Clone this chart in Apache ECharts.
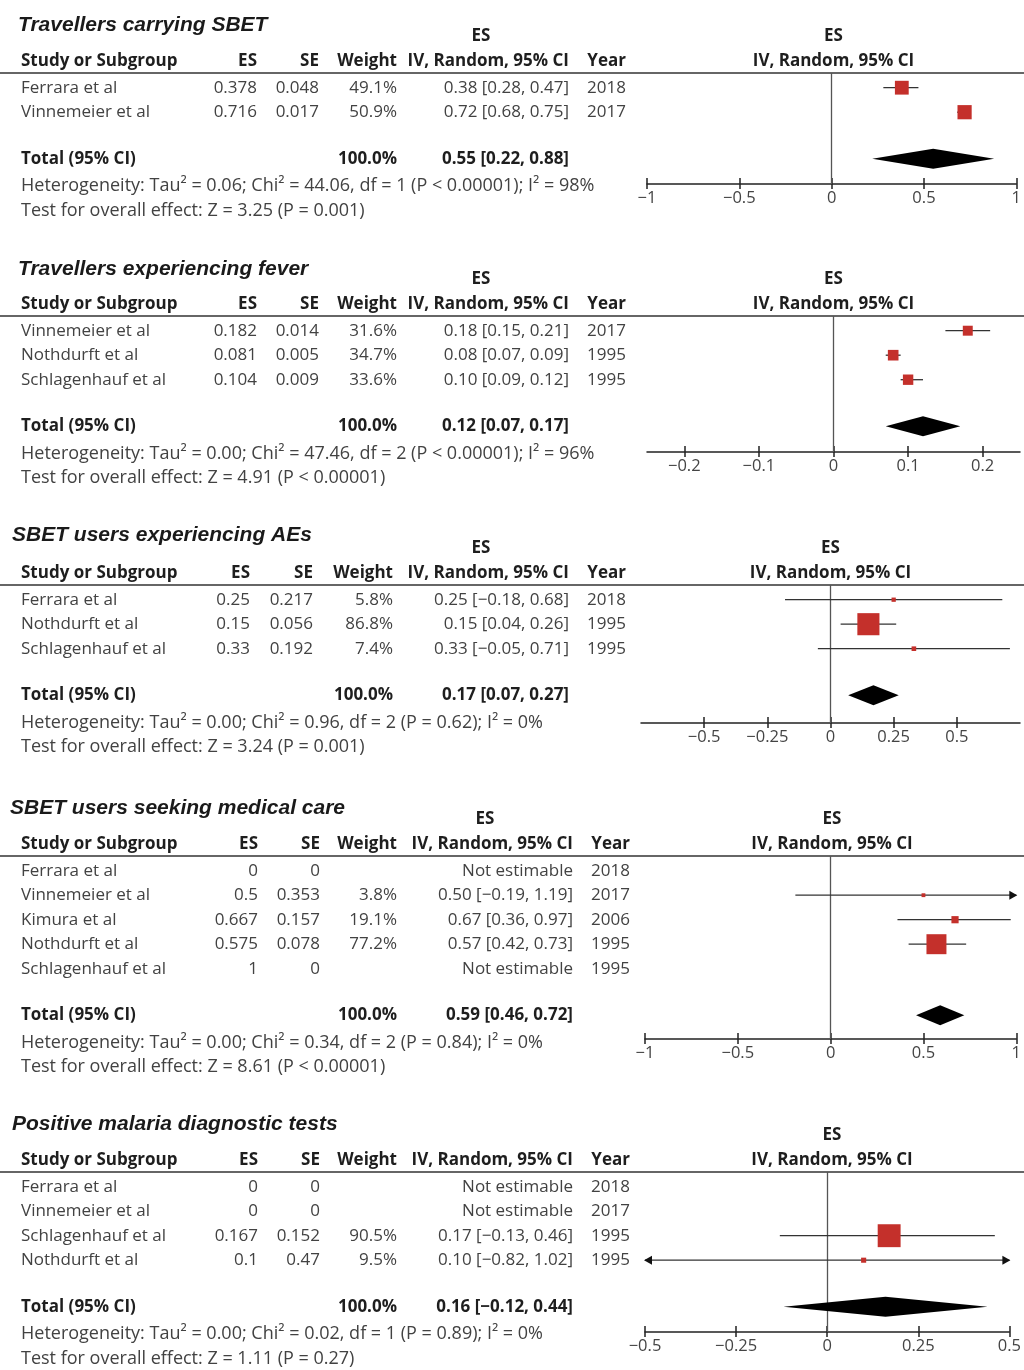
<!DOCTYPE html>
<html><head><meta charset="utf-8">
<script src="https://cdn.jsdelivr.net/npm/echarts@6/dist/echarts.min.js"></script>
<style>html,body{margin:0;padding:0;background:#fff}#c{width:1024px;height:1370px}</style>
</head><body><div id="c"></div>
<script>
// ---------- Panel 1 ----------
const p1Title = 'Travellers carrying SBET';
const p1Studies = ['Ferrara et al', 'Vinnemeier et al'];
const p1ES = [0.378, 0.716];
const p1SE = [0.048, 0.017];
const p1Weight = [49.1, 50.9];
const p1Est = [0.38, 0.72];
const p1Low = [0.28, 0.68];
const p1High = [0.47, 0.75];
const p1Year = [2018, 2017];
const p1Total = [0.55, 0.22, 0.88];
const p1Het = 'Heterogeneity: Tau² = 0.06; Chi² = 44.06, df = 1 (P < 0.00001); I² = 98%';
const p1Test = 'Test for overall effect: Z = 3.25 (P = 0.001)';
const p1Range = [-1, 1];
const p1Ticks = [-1, -0.5, 0, 0.5, 1];

// ---------- Panel 2 ----------
const p2Title = 'Travellers experiencing fever';
const p2Studies = ['Vinnemeier et al', 'Nothdurft et al', 'Schlagenhauf et al'];
const p2ES = [0.182, 0.081, 0.104];
const p2SE = [0.014, 0.005, 0.009];
const p2Weight = [31.6, 34.7, 33.6];
const p2Est = [0.18, 0.08, 0.10];
const p2Low = [0.15, 0.07, 0.09];
const p2High = [0.21, 0.09, 0.12];
const p2Year = [2017, 1995, 1995];
const p2Total = [0.12, 0.07, 0.17];
const p2Het = 'Heterogeneity: Tau² = 0.00; Chi² = 47.46, df = 2 (P < 0.00001); I² = 96%';
const p2Test = 'Test for overall effect: Z = 4.91 (P < 0.00001)';
const p2Range = [-0.25, 0.25];
const p2Ticks = [-0.2, -0.1, 0, 0.1, 0.2];

// ---------- Panel 3 ----------
const p3Title = 'SBET users experiencing AEs';
const p3Studies = ['Ferrara et al', 'Nothdurft et al', 'Schlagenhauf et al'];
const p3ES = [0.25, 0.15, 0.33];
const p3SE = [0.217, 0.056, 0.192];
const p3Weight = [5.8, 86.8, 7.4];
const p3Est = [0.25, 0.15, 0.33];
const p3Low = [-0.18, 0.04, -0.05];
const p3High = [0.68, 0.26, 0.71];
const p3Year = [2018, 1995, 1995];
const p3Total = [0.17, 0.07, 0.27];
const p3Het = 'Heterogeneity: Tau² = 0.00; Chi² = 0.96, df = 2 (P = 0.62); I² = 0%';
const p3Test = 'Test for overall effect: Z = 3.24 (P = 0.001)';
const p3Range = [-0.75, 0.75];
const p3Ticks = [-0.5, -0.25, 0, 0.25, 0.5];

// ---------- Panel 4 ----------
const p4Title = 'SBET users seeking medical care';
const p4Studies = ['Ferrara et al', 'Vinnemeier et al', 'Kimura et al', 'Nothdurft et al', 'Schlagenhauf et al'];
const p4ES = [0, 0.5, 0.667, 0.575, 1];
const p4SE = [0, 0.353, 0.157, 0.078, 0];
const p4Weight = [null, 3.8, 19.1, 77.2, null];
const p4Est = [null, 0.50, 0.67, 0.57, null];
const p4Low = [null, -0.19, 0.36, 0.42, null];
const p4High = [null, 1.19, 0.97, 0.73, null];
const p4Year = [2018, 2017, 2006, 1995, 1995];
const p4Total = [0.59, 0.46, 0.72];
const p4Het = 'Heterogeneity: Tau² = 0.00; Chi² = 0.34, df = 2 (P = 0.84); I² = 0%';
const p4Test = 'Test for overall effect: Z = 8.61 (P < 0.00001)';
const p4Range = [-1, 1];
const p4Ticks = [-1, -0.5, 0, 0.5, 1];

// ---------- Panel 5 ----------
const p5Title = 'Positive malaria diagnostic tests';
const p5Studies = ['Ferrara et al', 'Vinnemeier et al', 'Schlagenhauf et al', 'Nothdurft et al'];
const p5ES = [0, 0, 0.167, 0.1];
const p5SE = [0, 0, 0.152, 0.47];
const p5Weight = [null, null, 90.5, 9.5];
const p5Est = [null, null, 0.17, 0.10];
const p5Low = [null, null, -0.13, -0.82];
const p5High = [null, null, 0.46, 1.02];
const p5Year = [2018, 2017, 1995, 1995];
const p5Total = [0.16, -0.12, 0.44];
const p5Het = 'Heterogeneity: Tau² = 0.00; Chi² = 0.02, df = 1 (P = 0.89); I² = 0%';
const p5Test = 'Test for overall effect: Z = 1.11 (P = 0.27)';
const p5Range = [-0.5, 0.5];
const p5Ticks = [-0.5, -0.25, 0, 0.25, 0.5];

// ---------- layout (positions / styles only) ----------
const PITCH = 24.5;
const layouts = [
  {ruleY: 73,   axisY: 184,  left: 647, right: 1020, title: 18, tY: -48, es: 257, se: 319, wt: 397, ci: 569, yr: 626, esHead: true},
  {ruleY: 316,  axisY: 452,  left: 647, right: 1020, title: 18, tY: -47, es: 257, se: 319, wt: 397, ci: 569, yr: 626, esHead: true},
  {ruleY: 585,  axisY: 723,  left: 641, right: 1020, title: 12, tY: -50, es: 250, se: 313, wt: 393, ci: 569, yr: 626, esHead: true},
  {ruleY: 856,  axisY: 1039, left: 645, right: 1019, title: 10, tY: -48, es: 258, se: 320, wt: 397, ci: 573, yr: 630, esHead: true},
  {ruleY: 1172, axisY: 1332, left: 645, right: 1019, title: 12, tY: -48, es: 258, se: 320, wt: 397, ci: 573, yr: 630, esHead: false}
];

const panels = [
  {title: p1Title, studies: p1Studies, es: p1ES, se: p1SE, w: p1Weight, est: p1Est, lo: p1Low, hi: p1High, yr: p1Year, tot: p1Total, het: p1Het, test: p1Test, range: p1Range, ticks: p1Ticks},
  {title: p2Title, studies: p2Studies, es: p2ES, se: p2SE, w: p2Weight, est: p2Est, lo: p2Low, hi: p2High, yr: p2Year, tot: p2Total, het: p2Het, test: p2Test, range: p2Range, ticks: p2Ticks},
  {title: p3Title, studies: p3Studies, es: p3ES, se: p3SE, w: p3Weight, est: p3Est, lo: p3Low, hi: p3High, yr: p3Year, tot: p3Total, het: p3Het, test: p3Test, range: p3Range, ticks: p3Ticks},
  {title: p4Title, studies: p4Studies, es: p4ES, se: p4SE, w: p4Weight, est: p4Est, lo: p4Low, hi: p4High, yr: p4Year, tot: p4Total, het: p4Het, test: p4Test, range: p4Range, ticks: p4Ticks},
  {title: p5Title, studies: p5Studies, es: p5ES, se: p5SE, w: p5Weight, est: p5Est, lo: p5Low, hi: p5High, yr: p5Year, tot: p5Total, het: p5Het, test: p5Test, range: p5Range, ticks: p5Ticks}
];

const FONT = "'Open Sans', sans-serif";
const REG = '17px ' + FONT;
const NOTE = '18px ' + FONT;
const BOLD = 'bold 17px ' + FONT;
const TITLE = "italic bold 21px 'Liberation Sans', Arial, sans-serif";
const TXT = '#424242', TXTB = '#1e1e1e';
const RED = '#c4302b';

function fmt(v) { return (v < 0 ? '\u2212' : '') + Math.abs(v).toFixed(2); }
function ciText(e, l, h) { return fmt(e) + ' [' + fmt(l) + ', ' + fmt(h) + ']'; }
function txt(x, y, s, font, fill, align) {
  return {type: 'text', x: x, y: y, silent: true,
    style: {text: s, font: font, fill: fill, align: align || 'left', verticalAlign: 'middle', textAlign: align || 'left', textVerticalAlign: 'middle'}};
}

const grids = [], xAxes = [], yAxes = [], series = [], graphics = [];

panels.forEach(function (p, i) {
  const L = layouts[i];
  const n = p.studies.length;
  const totalRow = n + 0.9;
  const yMin = -0.6;
  const yMax = yMin + (L.axisY - L.ruleY) / PITCH;
  const rowY = function (r) { return L.ruleY + (r - yMin) * PITCH; };

  grids.push({left: L.left, width: L.right - L.left, top: L.ruleY, height: L.axisY - L.ruleY, containLabel: false});
  const lblFmt = function (v) { return v < 0 ? '\u2212' + Math.abs(v) : String(v); };
  xAxes.push({
    gridIndex: i, type: 'value', min: p.range[0], max: p.range[1], position: 'bottom',
    splitLine: {show: false},
    axisLine: {show: true, onZero: false, lineStyle: {color: '#222', width: 1.5}},
    axisTick: {show: true, inside: true, length: 6, customValues: p.ticks, lineStyle: {color: '#222', width: 1.5}},
    axisLabel: {show: true, customValues: p.ticks, formatter: lblFmt, color: '#444', fontSize: 16.5, fontFamily: FONT, margin: 6}
  });
  xAxes.push({
    gridIndex: i, type: 'value', min: p.range[0], max: p.range[1], position: 'bottom', offset: 0,
    splitLine: {show: false},
    axisLine: {show: false, onZero: false},
    axisTick: {show: true, inside: false, length: 5, customValues: p.ticks, lineStyle: {color: '#222', width: 1.5}},
    axisLabel: {show: false}
  });
  yAxes.push({gridIndex: i, type: 'value', inverse: true, min: yMin, max: yMax, show: false});

  const data = [];
  for (let k = 0; k < n; k++) {
    if (p.est[k] === null) continue;
    data.push([p.est[k], k, p.lo[k], p.hi[k], p.w[k], 0]);
  }
  data.push([p.tot[0], totalRow, p.tot[1], p.tot[2], 100, 1]);

  series.push({
    type: 'custom', xAxisIndex: 2 * i, yAxisIndex: i, silent: true, clip: false,
    data: data,
    renderItem: function (params, api) {
      const est = api.value(0), row = api.value(1), lo = api.value(2), hi = api.value(3), w = api.value(4), isTot = api.value(5);
      const cs = params.coordSys;
      const xmin = cs.x, xmax = cs.x + cs.width;
      const c = api.coord([est, row]);
      const y = c[1];
      const pl = api.coord([lo, row])[0], ph = api.coord([hi, row])[0];
      if (isTot) {
        return {type: 'polygon', shape: {points: [[pl, y], [c[0], y - 10], [ph, y], [c[0], y + 10]]}, style: {fill: '#000'}};
      }
      const ch = [];
      const x1 = Math.max(pl, xmin), x2 = Math.min(ph, xmax);
      ch.push({type: 'line', shape: {x1: x1, y1: y, x2: x2, y2: y}, style: {stroke: '#333', lineWidth: 1.3}});
      if (pl < xmin) ch.push({type: 'polygon', shape: {points: [[xmin - 1, y], [xmin + 7, y - 4.5], [xmin + 7, y + 4.5]]}, style: {fill: '#111'}});
      if (ph > xmax) ch.push({type: 'polygon', shape: {points: [[xmax + 1, y], [xmax - 7, y - 4.5], [xmax - 7, y + 4.5]]}, style: {fill: '#111'}});
      const s = 3 + 0.22 * w;
      ch.push({type: 'rect', shape: {x: c[0] - s / 2, y: y - s / 2, width: s, height: s}, style: {fill: RED}});
      return {type: 'group', children: ch};
    },
    markLine: {silent: true, symbol: 'none', label: {show: false}, lineStyle: {color: '#555', width: 1.3, type: 'solid'}, data: [{xAxis: 0}]},
    z: 5
  });

  // header rule
  graphics.push({type: 'line', silent: true, shape: {x1: 0, y1: L.ruleY, x2: 1024, y2: L.ruleY}, style: {stroke: '#666', lineWidth: 2}});

  // texts
  const cx = (L.left + L.right) / 2;
  graphics.push(txt(L.title, L.ruleY + L.tY, p.title, TITLE, '#1a1a1a', 'left'));
  if (L.esHead) graphics.push(txt(L.ci - 88, L.ruleY - 37, 'ES', BOLD, TXTB, 'center'));
  graphics.push(txt(cx, L.ruleY - 37, 'ES', BOLD, TXTB, 'center'));
  graphics.push(txt(cx, L.ruleY - 12, 'IV, Random, 95% CI', BOLD, TXTB, 'center'));
  const hy = L.ruleY - 12;
  graphics.push(txt(21, hy, 'Study or Subgroup', BOLD, TXTB, 'left'));
  graphics.push(txt(L.es, hy, 'ES', BOLD, TXTB, 'right'));
  graphics.push(txt(L.se, hy, 'SE', BOLD, TXTB, 'right'));
  graphics.push(txt(L.wt, hy, 'Weight', BOLD, TXTB, 'right'));
  graphics.push(txt(L.ci, hy, 'IV, Random, 95% CI', BOLD, TXTB, 'right'));
  graphics.push(txt(L.yr, hy, 'Year', BOLD, TXTB, 'right'));
  for (let k = 0; k < n; k++) {
    const y = rowY(k);
    graphics.push(txt(21, y, p.studies[k], REG, TXT, 'left'));
    graphics.push(txt(L.es, y, String(p.es[k]), REG, TXT, 'right'));
    graphics.push(txt(L.se, y, String(p.se[k]), REG, TXT, 'right'));
    if (p.w[k] !== null) graphics.push(txt(L.wt, y, p.w[k].toFixed(1) + '%', REG, TXT, 'right'));
    graphics.push(txt(L.ci, y, p.est[k] === null ? 'Not estimable' : ciText(p.est[k], p.lo[k], p.hi[k]), REG, TXT, 'right'));
    graphics.push(txt(L.yr, y, String(p.yr[k]), REG, TXT, 'right'));
  }
  const ty = rowY(totalRow);
  graphics.push(txt(21, ty, 'Total (95% CI)', BOLD, TXTB, 'left'));
  graphics.push(txt(L.wt, ty, '100.0%', BOLD, TXTB, 'right'));
  graphics.push(txt(L.ci, ty, ciText(p.tot[0], p.tot[1], p.tot[2]), BOLD, TXTB, 'right'));
  graphics.push(txt(21, ty + 27.5, p.het, NOTE, TXT, 'left'));
  graphics.push(txt(21, ty + 52, p.test, NOTE, TXT, 'left'));
});

const chart = echarts.init(document.getElementById('c'), null, {renderer: 'canvas'});
chart.setOption({
  animation: false,
  backgroundColor: '#fff',
  grid: grids, xAxis: xAxes, yAxis: yAxes, series: series,
  graphic: {elements: graphics}
});
</script></body></html>
